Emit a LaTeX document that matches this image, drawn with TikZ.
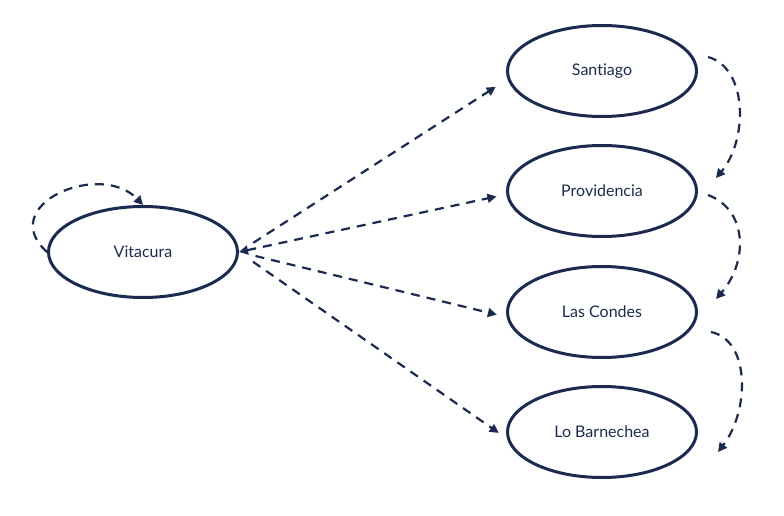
\documentclass[tikz,border=0pt]{standalone}
\usepackage{fontspec}
\setmainfont{Lato}[Ligatures=NoCommon]
\usepackage{xcolor}
\usepackage{tikz}
\usetikzlibrary{shapes.geometric,arrows.meta}
\definecolor{navy}{HTML}{1B2A4E}
\newcommand{\ComunaFont}{\fontsize{16}{19}\selectfont}

\begin{document}
\begin{tikzpicture}[x=1pt,y=-1pt,
    comuna/.style={draw=navy,ellipse,line width=3pt,minimum width=189pt,minimum height=91pt,text=navy,font=\ComunaFont},
    flow/.style={navy,line width=2.2pt,dash pattern=on 9pt off 7pt,-{Triangle[length=9pt,width=9pt]}}]
        \useasboundingbox (0,0) rectangle (784,516);
        \node[comuna] (vit) at (143,252) {Vitacura};
        \node[comuna] (san) at (602,71) {Santiago};
        \node[comuna] (pro) at (602,191) {Providencia};
        \node[comuna] (lco) at (602,312) {Las Condes};
        \node[comuna] (lba) at (602,432) {Lo Barnechea};
        % salidas desde Vitacura
        \draw[flow,shorten <=17pt,shorten >=14pt] (vit.east) -- (san.185);
        \draw[flow,{Triangle[length=9pt,width=9pt]}-{Triangle[length=9pt,width=9pt]},shorten >=10pt] (vit.east) -- (pro.182);
        \draw[flow,shorten <=17pt,shorten >=10pt] (vit.east) -- (lco.183);
        \draw[flow,shorten <=17pt,shorten >=10pt] (vit.east) -- (lba.184);
        % lazo
        \draw[flow] (vit.west) .. controls (-5,205) and (100,160) .. (vit.north);
        % cadena a la derecha
        \draw[flow] ([shift={(10,-14)}]san.east) .. controls (748,68) and (748,140) .. ([shift={(18,-13)}]pro.east);
        \draw[flow] ([shift={(10,4)}]pro.east) .. controls (748,210) and (748,262) .. ([shift={(18,-13)}]lco.east);
        \draw[flow] ([shift={(13,20)}]lco.east) .. controls (750,340) and (750,410) .. ([shift={(20,20)}]lba.east);
      \end{tikzpicture}
\end{document}
